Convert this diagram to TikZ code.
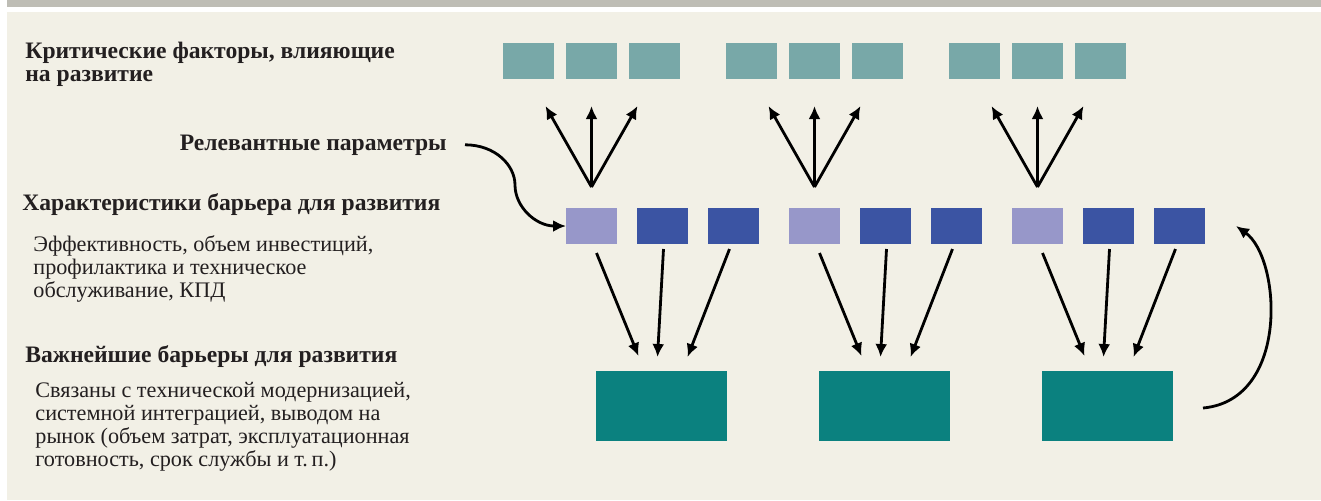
\documentclass[tikz,border=0pt]{standalone}
\usepackage{fontspec}
\setmainfont{Liberation Serif}
\usetikzlibrary{arrows.meta,calc}
\definecolor{paper}{HTML}{F2F0E6}
\definecolor{band}{HTML}{BEBDB5}
\definecolor{ink}{HTML}{231F20}
\definecolor{factor}{HTML}{78A8A8}
\definecolor{param}{HTML}{9797C9}
\definecolor{charblue}{HTML}{3B54A3}
\definecolor{barrier}{HTML}{0B817F}
\tikzset{
	box/.style={inner sep=0pt, outer sep=0pt, minimum width=25.5pt, minimum height=18pt},
	arr/.style={line width=1.4pt, -{Latex[length=6.5pt,width=6pt]}},
	head/.style={font=\fontsize{11.8}{11.5}\selectfont\bfseries, text=ink, inner sep=0pt, align=left},
	body/.style={font=\fontsize{11.1}{11.5}\selectfont, text=ink, inner sep=0pt, align=left}
}
\begin{document}
\begin{tikzpicture}[x=0.5pt,y=-0.5pt]
		\useasboundingbox (0,0) rectangle (1321,500);
		\fill[white] (0,0) rectangle (1321,500);
		\fill[band] (7,0) rectangle (1321,7);
		\fill[paper] (7,12) rectangle (1321,500);
		
		% three groups of boxes
		\foreach \g in {1,2,3}{
			\foreach \i in {1,2,3}{
				\node[box, fill=factor] (f\g\i) at (528.5+223*\g-223+63*\i-63, 61) {};
				\ifnum\i=1 \def\farbe{param}\else\def\farbe{charblue}\fi
				\node[box, fill=\farbe] (c\g\i) at (591.5+223*\g-223+71*\i-71, 226) {};
			}
			\node[box, minimum width=65.5pt, minimum height=35pt, fill=barrier] (b\g) at (661.5+223*\g-223, 406) {};
		}
		
		% arrows
		\foreach \g in {1,2,3}{
			\coordinate (fan\g) at ($(c\g1.north)+(0,-21)$);
			\draw[arr] (fan\g) -- ++(-46,-81);
			\draw[arr] (fan\g) -- ++(0,-81);
			\draw[arr] (fan\g) -- ++(46,-81);
			\draw[arr] ($(c\g1.south)+(5,9)$) -- ($(b\g.north)+(-23,-15)$);
			\draw[arr] ($(c\g2.south)+(1,5)$) -- ($(b\g.north)+(-4,-14)$);
			\draw[arr] ($(c\g3.south)+(-4,5)$) -- ($(b\g.north)+(26,-14)$);
		}
		
		% labels
		\node[head, anchor=north west] (crit) at (25,42) {Критические факторы, влияющие\\на развитие};
		\node[head, anchor=base east] (rel) at (447,150) {Релевантные параметры};
		\node[head, anchor=base west] (char) at (22,210) {Характеристики барьера для развития};
		\node[body, anchor=north west] (charsub) at (33,235) {Эффективность, объем инвестиций,\\профилактика и техническое\\обслуживание, КПД};
		\node[head, anchor=base west] (imp) at (25,362) {Важнейшие барьеры для развития};
		\node[body, anchor=north west] (impsub) at (35,382) {Связаны с технической модернизацией,\\системной интеграцией, выводом на\\рынок (объем затрат, эксплуатационная\\готовность, срок службы и т.\,п.)};
		
		\draw[arr] ([xshift=9pt]rel.east) .. controls +(30,0) and +(0,-20) .. (515,185) .. controls +(0,22) and +(-30,0) .. (c11.west);
		\draw[arr] ([xshift=15pt,yshift=-1pt]b3.east) .. controls +(87,-8) and +(45,32) .. ([xshift=15.5pt]c33.east);
	\end{tikzpicture}
\end{document}
